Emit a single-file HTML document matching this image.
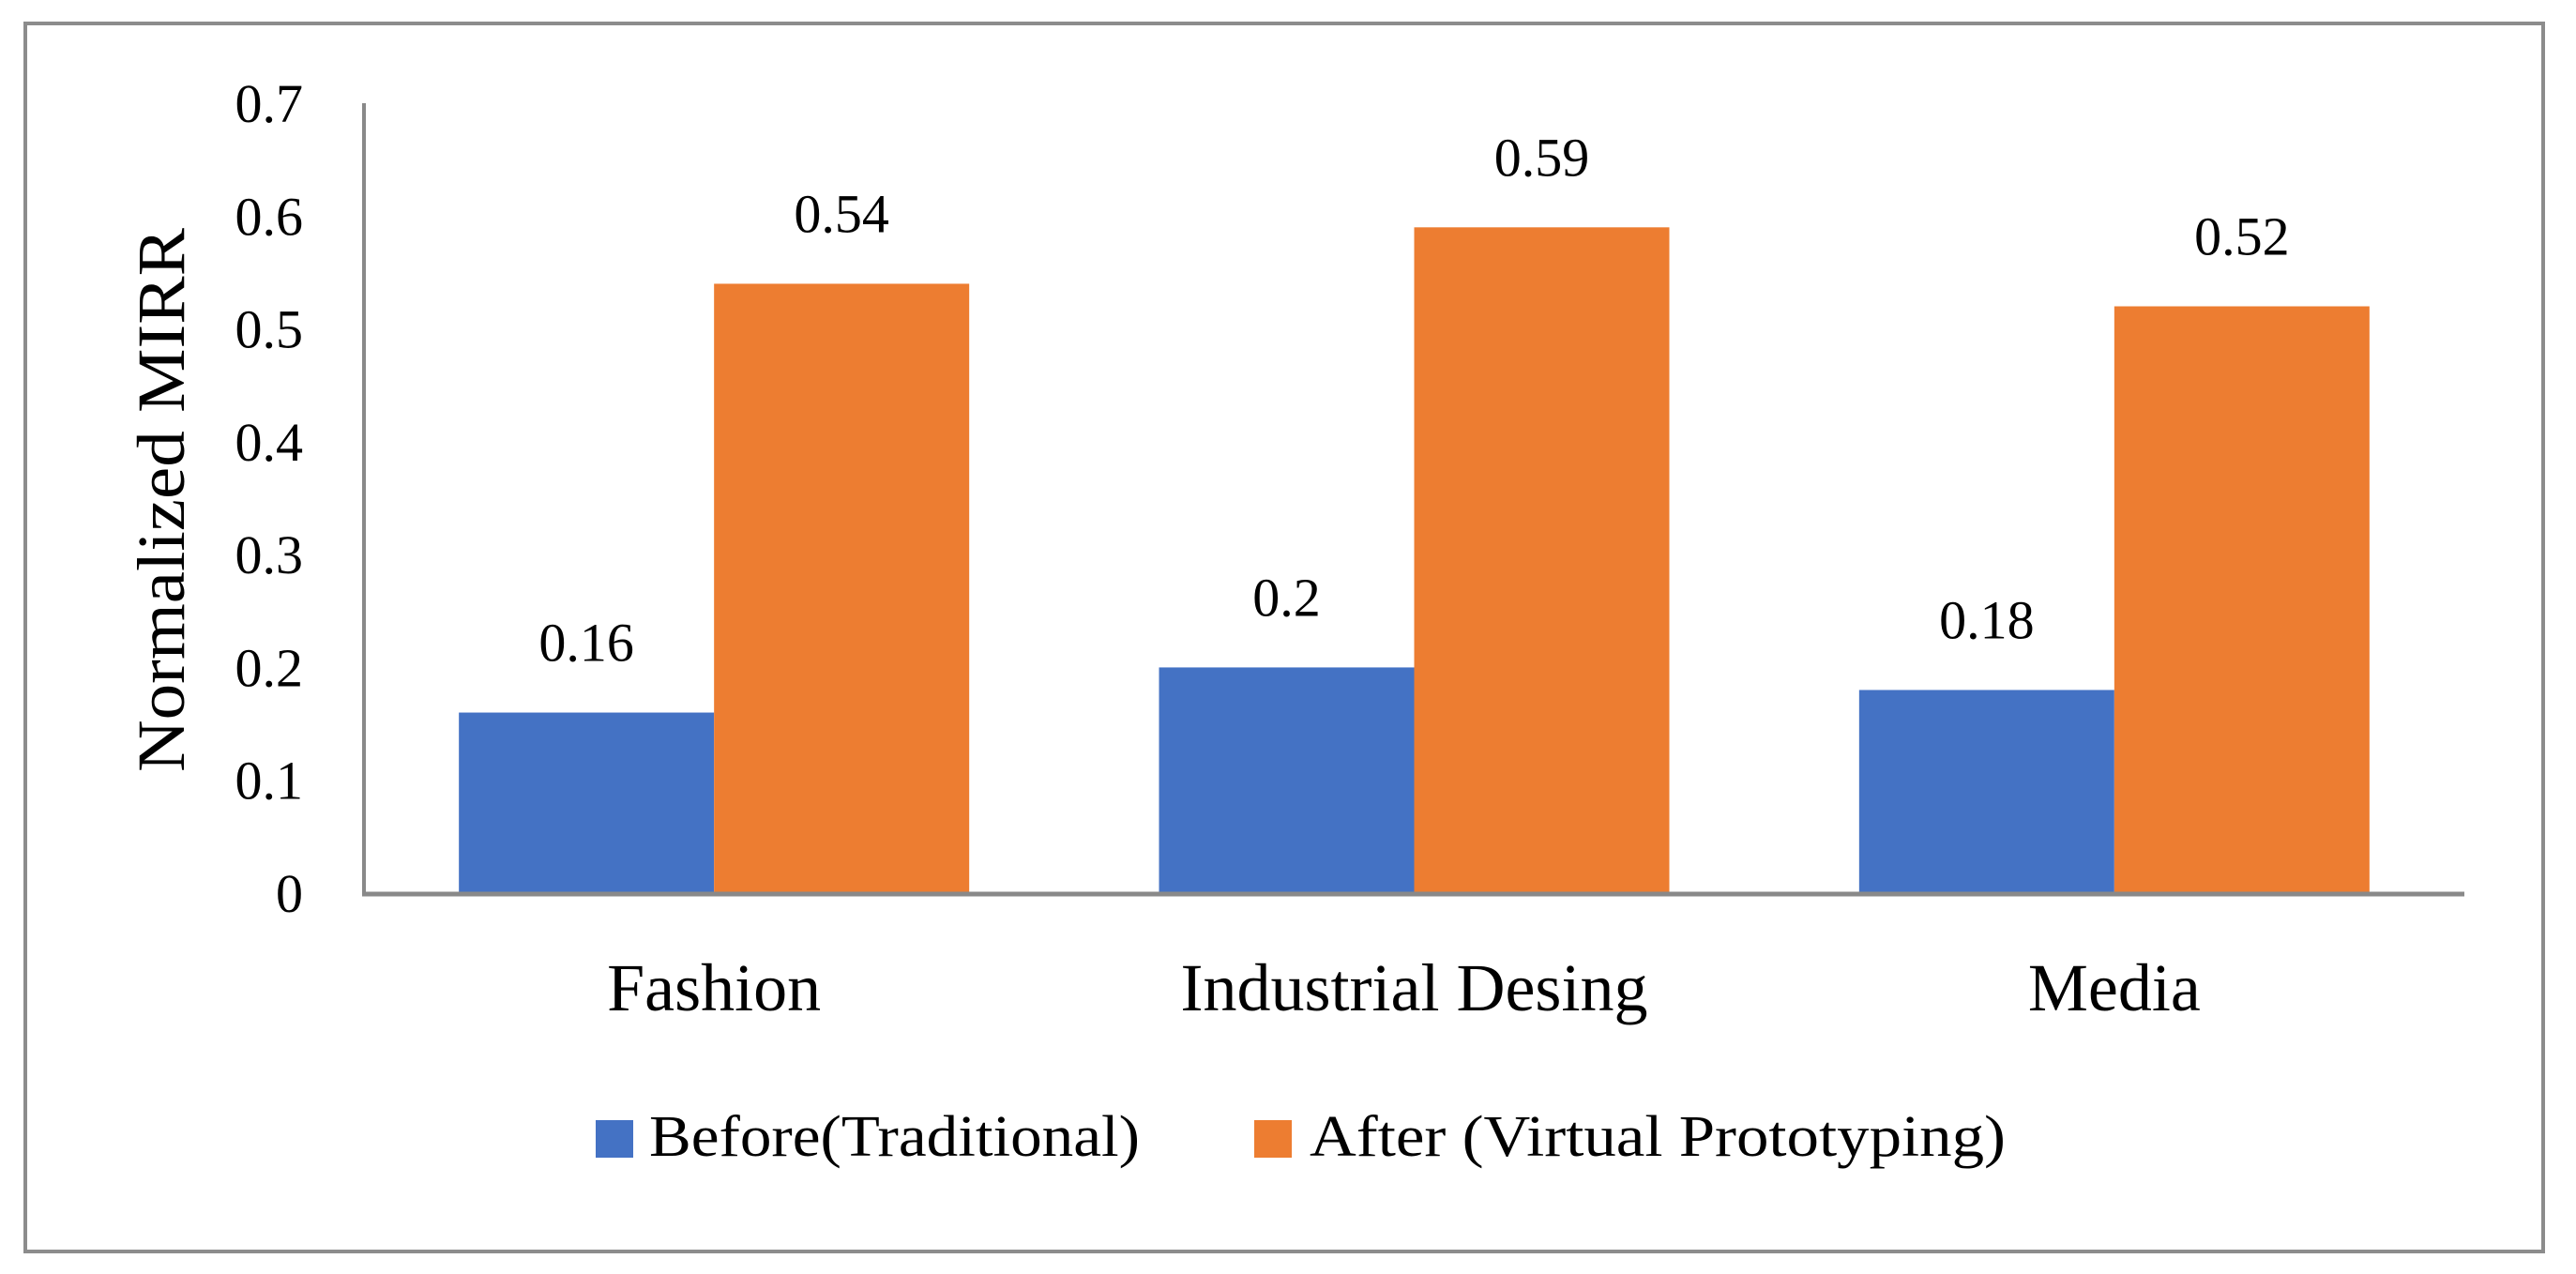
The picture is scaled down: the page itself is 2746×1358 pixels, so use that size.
<!DOCTYPE html>
<html><head><meta charset="utf-8"><style>
html,body{margin:0;padding:0;background:#fff}
svg{display:block;font-family:"Liberation Serif",serif}
</style></head><body>
<svg id="chart" width="2746" height="1358" viewBox="0 0 2746 1358" xmlns="http://www.w3.org/2000/svg">
<rect x="27" y="25" width="2684" height="1309" fill="#fff" stroke="#8c8c8c" stroke-width="4"/>
<g id="grid"></g>
<g id="bars"></g>
<g id="labels"></g>
<text transform="translate(196,533) rotate(-90)" text-anchor="middle" font-size="72" textLength="580" lengthAdjust="spacingAndGlyphs">Normalized MIRR</text>
<g>
<rect x="635" y="1194" width="40" height="40" fill="#4472C4"/>
<text x="692" y="1232" font-size="62" textLength="523" lengthAdjust="spacingAndGlyphs">Before(Traditional)</text>
<rect x="1337" y="1194" width="40" height="40" fill="#ED7D31"/>
<text x="1396" y="1232" font-size="62" textLength="742" lengthAdjust="spacingAndGlyphs">After (Virtual Prototyping)</text>
</g>
</svg>
<script>
const categories = ["Fashion", "Industrial Desing", "Media"];
const beforeValues = [0.16, 0.2, 0.18];
const afterValues = [0.54, 0.59, 0.52];
const beforeLabels = ["0.16", "0.2", "0.18"];
const afterLabels = ["0.54", "0.59", "0.52"];
const yTicks = [0, 0.1, 0.2, 0.3, 0.4, 0.5, 0.6, 0.7];
const yTickLabels = ["0", "0.1", "0.2", "0.3", "0.4", "0.5", "0.6", "0.7"];

const NS = "http://www.w3.org/2000/svg";
const X0 = 388, X1 = 2627, Y0 = 952, YTOP = 110, YMAX = 0.7;
const catW = (X1 - X0) / categories.length;
const barW = 272;
function y(v){ return Y0 - (v / YMAX) * (Y0 - YTOP); }
function xc(i){ return X0 + catW * (i + 0.5); }
function mk(tag, attrs, parent){ const e = document.createElementNS(NS, tag); for (const k in attrs) e.setAttribute(k, attrs[k]); parent.appendChild(e); return e; }

const grid = document.getElementById("grid");
const bars = document.getElementById("bars");
const labels = document.getElementById("labels");

yTicks.forEach((t, i) => {
  const tx = mk("text", {x: 323, y: y(t) + 20, "text-anchor": "end", "font-size": 58}, labels);
  tx.textContent = yTickLabels[i];
  
  
});

categories.forEach((c, i) => {
  const cx = xc(i);
  const b = mk("rect", {x: cx - barW, y: y(beforeValues[i]), width: barW, height: Y0 - y(beforeValues[i]), fill: "#4472C4"}, bars);
  
  
  const a = mk("rect", {x: cx, y: y(afterValues[i]), width: barW, height: Y0 - y(afterValues[i]), fill: "#ED7D31"}, bars);
  
  
  const bl = mk("text", {x: cx - barW / 2, y: y(beforeValues[i]) - 55, "text-anchor": "middle", "font-size": 58}, labels);
  bl.textContent = beforeLabels[i];
  
  
  const al = mk("text", {x: cx + barW / 2, y: y(afterValues[i]) - 55, "text-anchor": "middle", "font-size": 58}, labels);
  al.textContent = afterLabels[i];
  
  
  const cl = mk("text", {x: cx, y: 1077, "text-anchor": "middle", "font-size": 72}, labels);
  cl.textContent = c;
  
  
});

const yax = mk("line", {x1: X0, y1: YTOP, x2: X0, y2: Y0 + 2, stroke: "#898989", "stroke-width": 4}, grid);


const xax = mk("line", {x1: X0 - 2, y1: Y0 + 1, x2: X1, y2: Y0 + 1, stroke: "#898989", "stroke-width": 5}, labels);


</script>
</body></html>
